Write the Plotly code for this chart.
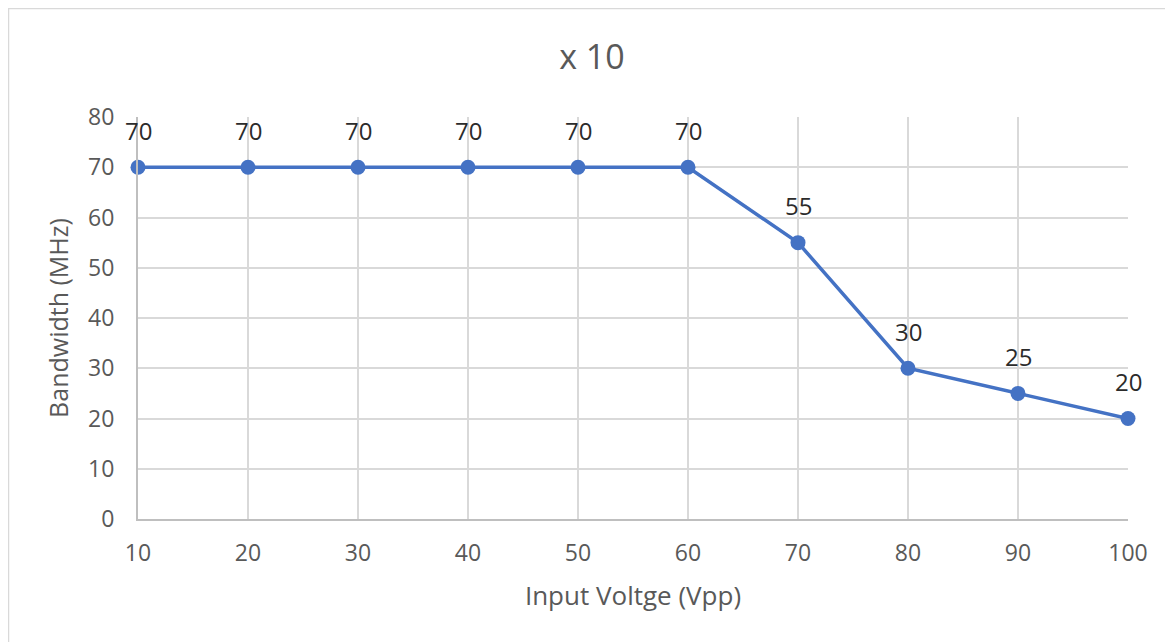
import plotly.graph_objects as go

voltage = [10, 20, 30, 40, 50, 60, 70, 80, 90, 100]
bandwidth = [70, 70, 70, 70, 70, 70, 55, 30, 25, 20]
y_ticks = [0, 10, 20, 30, 40, 50, 60, 70, 80]

FONT = "Open Sans"
BLUE = "#4472C4"

W, H = 1165, 634
L, T = 130, 109
PW, PH = 990, 402

fig = go.Figure()
fig.add_trace(go.Scatter(
    x=voltage, y=bandwidth, mode="lines+markers",
    line=dict(color=BLUE, width=3.5),
    marker=dict(color=BLUE, size=15),
    cliponaxis=False,
    showlegend=False, hoverinfo="x+y",
))

for xv, yv in zip(voltage, bandwidth):
    fig.add_annotation(x=xv, y=yv, text=str(yv), showarrow=False,
                       yshift=37, font=dict(family=FONT, size=24, color="#2b2b2b"))

fig.update_layout(
    width=W, height=H,
    margin=dict(l=L, r=W - L - PW, t=T, b=H - T - PH),
    paper_bgcolor="white", plot_bgcolor="white",
    font=dict(family=FONT, color="#595959"),
    title=dict(text="x 10", x=(592 - 8) / W, xref="container", xanchor="center",
               y=1 - 49 / H, yanchor="middle",
               font=dict(family=FONT, size=34, color="#595959")),
    xaxis=dict(range=[10, 100], tickvals=voltage, ticktext=[str(v) for v in voltage],
               showgrid=True, gridcolor="#d9d9d9", gridwidth=2,
               showline=True, linecolor="#bfbfbf", linewidth=2,
               zeroline=False, ticks="", ticklabelstandoff=12,
               tickfont=dict(family=FONT, size=23, color="#595959"),
               title=dict(text="Input Voltge (Vpp)", standoff=20,
                          font=dict(family=FONT, size=26, color="#595959"))),
    yaxis=dict(range=[0, 80], tickvals=y_ticks,
               showgrid=True, gridcolor="#d9d9d9", gridwidth=2,
               showline=True, linecolor="#bfbfbf", linewidth=2,
               zeroline=False, ticks="", ticklabelstandoff=17,
               tickfont=dict(family=FONT, size=23, color="#595959"),
               title=dict(text="Bandwidth (MHz)", standoff=12,
                          font=dict(family=FONT, size=25, color="#595959"))),
)

fig.add_shape(type="rect", xref="paper", yref="paper",
              x0=(0.5 - L) / PW, x1=(W + 20 - L) / PW,
              y0=(T + PH - H - 20) / PH, y1=(T + PH - 0.5) / PH,
              line=dict(color="#d9d9d9", width=1.5), layer="below")

fig.write_html("out.html")
